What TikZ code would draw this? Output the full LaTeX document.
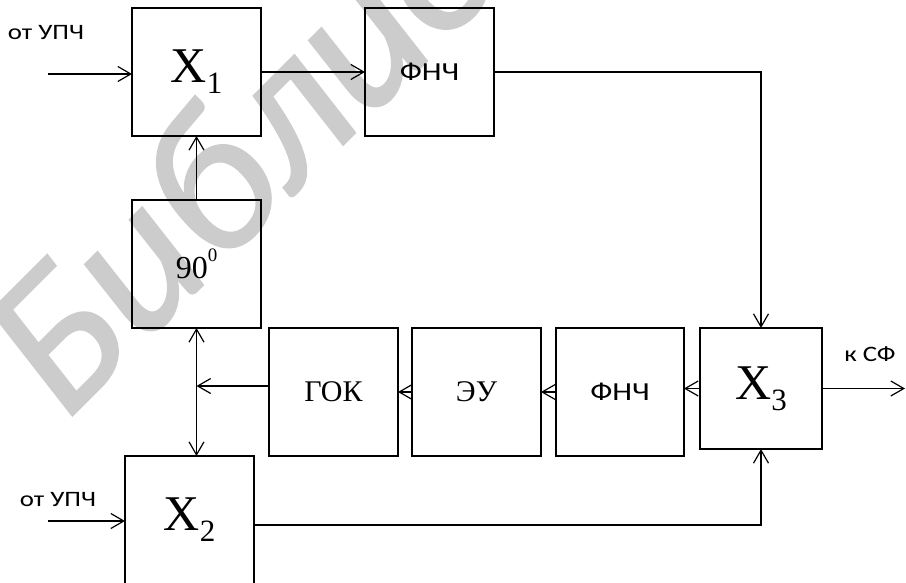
\documentclass[tikz,border=0pt]{standalone}
\usepackage{fontspec}
\setmainfont{Liberation Serif}
\newfontfamily\calfont[FakeStretch=1.22]{Carlito}
\newfontfamily\wmfont[FakeBold=1]{Carlito}
\usetikzlibrary{arrows.meta}
\begin{document}
\begin{tikzpicture}[x=1pt,y=-1pt,
  blk/.style={draw, line width=1.6pt, minimum width=129pt, minimum height=128pt, inner sep=0pt, outer sep=0pt},
  sblk/.style={blk, minimum width=122pt, minimum height=121pt},
  arr/.style={line width=1.2pt, -{Straight Barb[length=13pt,width=15pt,line width=1.2pt]}},
  arrb/.style={line width=1.2pt, {Straight Barb[length=13pt,width=15pt,line width=1.2pt]}-{Straight Barb[length=13pt,width=15pt,line width=1.2pt]}},
  big/.style={font=\fontsize{50}{50}\selectfont},
  ser/.style={font=\fontsize{30}{30}\selectfont},
  sans/.style={font=\calfont\fontsize{26}{26}\selectfont},
  lab/.style={font=\calfont\fontsize{22}{22}\selectfont, inner sep=0pt}
]
\useasboundingbox (0,0) rectangle (906,583);
\clip (0,0) rectangle (906,583);
% watermark
\node[text=black!20, rotate=45, anchor=base west, inner sep=0pt,
      font=\wmfont\itshape\fontsize{205}{205}\selectfont] (wm) at (64,424) {Библиотека};
% blocks
\node[blk, big] (X1) at (196.5,72) {X\raisebox{-0.22em}{\fontsize{31}{31}\selectfont 1}};
\node[blk, sans] (F1) at (429.5,72) {ФНЧ};
\node[blk, font=\fontsize{32}{32}\selectfont] (P90) at (196.5,264) {90\raisebox{0.55em}{\fontsize{19}{19}\selectfont 0}};
\node[blk, ser] (GOK) at (333.5,392) {ГОК};
\node[blk, ser] (EU) at (476.5,392) {ЭУ};
\node[blk, sans, minimum width=128pt] (F2) at (620,392) {ФНЧ};
\node[sblk, big] (X3) at (761,388.5) {X\raisebox{-0.22em}{\fontsize{31}{31}\selectfont 3}};
\node[blk, big, minimum height=134pt] (X2) at (189.5,523) {};
\node[big] (X2t) at (189.5,520) {X\raisebox{-0.22em}{\fontsize{31}{31}\selectfont 2}};
% labels
\node[lab] (l1) at (46,33) {от УПЧ};
\node[lab] (l2) at (58,500) {от УПЧ};
\node[lab] (l3) at (870,354) {к СФ};
% coordinates
\coordinate (in1) at (48,74);
\coordinate (in2) at (48,521);
\coordinate (j) at (196.5,386);
\coordinate (out) at (905,387);
\coordinate (b) at (763,525);
% connectors
\draw[arr] (in1) -- (in1 -| X1.west);
\draw[arr] (in2) -- (in2 -| X2.west);
\draw[arr] (X1.east) -- (F1.west);
\draw[arr] (F1.east) -| (X3.north);
\draw[arr] (P90.north) -- (X1.south);
\draw[arrb] (P90.south) -- (P90.south |- X2.north);
\draw[arr] (j -| GOK.west) -- (j);
\draw[arr] (EU.west) -- (GOK.east);
\draw[arr] (F2.west) -- (EU.east);
\draw[arr] (X3.west) -- (X3.west -| F2.east);
\draw[arr] (X3.east) -- (X3.east -| out);
\draw[arr] (X2.east |- b) -| (X3.south);
\end{tikzpicture}
\end{document}
